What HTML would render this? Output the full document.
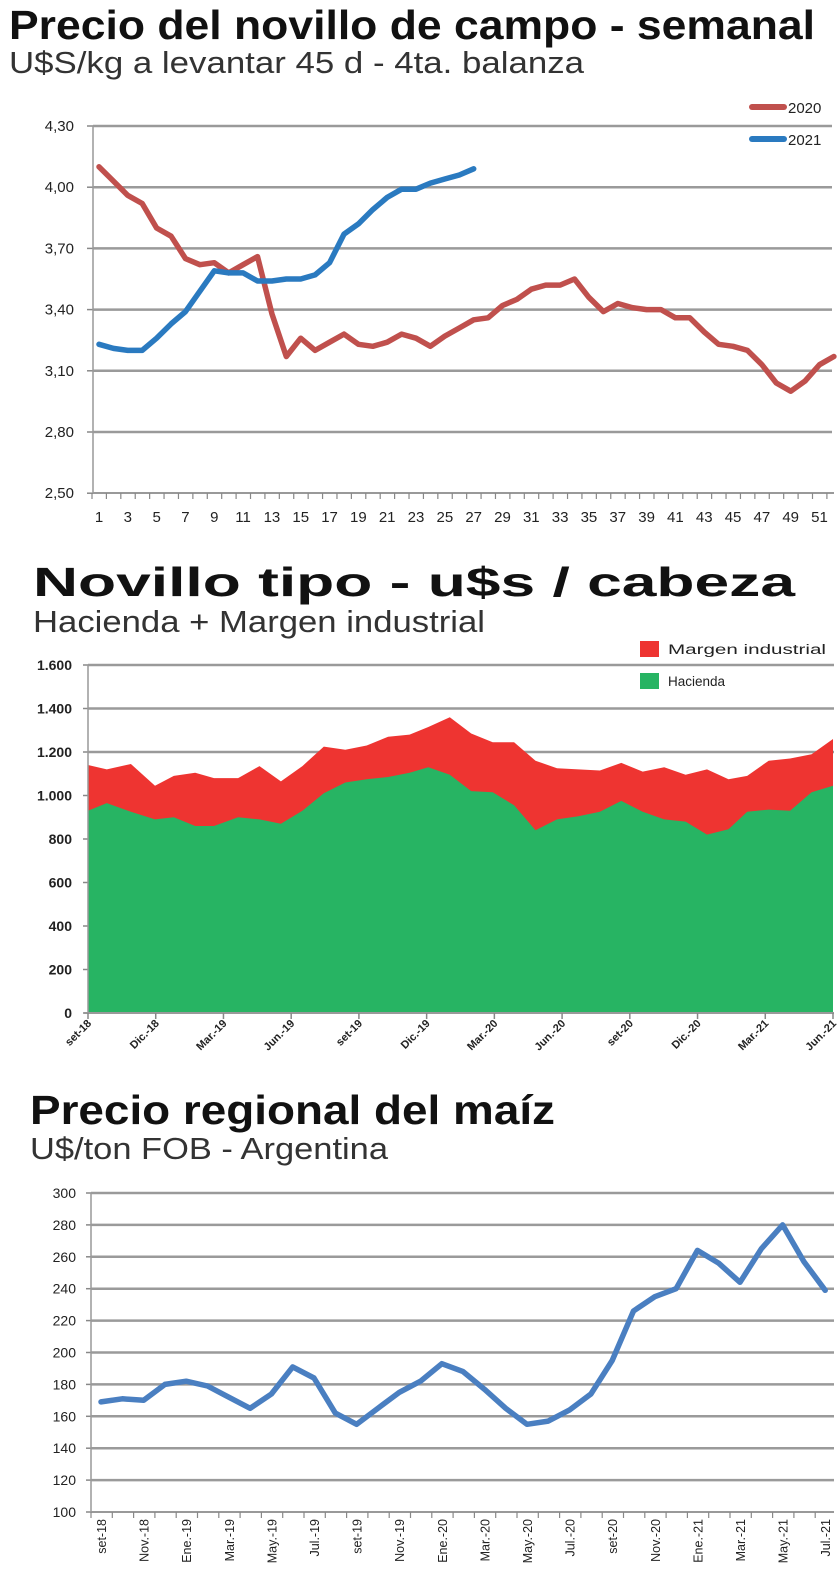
<!DOCTYPE html>
<html><head><meta charset="utf-8"><style>
html,body{margin:0;padding:0;background:#fff}
svg{display:block}
text{font-family:"Liberation Sans",sans-serif}
</style></head><body>
<svg id="s" width="840" height="1571" xmlns="http://www.w3.org/2000/svg">
<text x="9" y="39" font-size="41" font-weight="bold" fill="#111" textLength="806" lengthAdjust="spacingAndGlyphs">Precio del novillo de campo - semanal</text>
<text x="9" y="73" font-size="31" fill="#333" textLength="575" lengthAdjust="spacingAndGlyphs">U$S/kg a levantar 45 d - 4ta. balanza</text>
<text x="33" y="596" font-size="41" font-weight="bold" fill="#111" textLength="762" lengthAdjust="spacingAndGlyphs">Novillo tipo - u$s / cabeza</text>
<text x="33" y="632" font-size="31" fill="#333" textLength="452" lengthAdjust="spacingAndGlyphs">Hacienda + Margen industrial</text>
<text x="30" y="1124" font-size="41" font-weight="bold" fill="#111" textLength="525" lengthAdjust="spacingAndGlyphs">Precio regional del maíz</text>
<text x="30" y="1159" font-size="31" fill="#333" textLength="358" lengthAdjust="spacingAndGlyphs">U$/ton FOB - Argentina</text>
<g id="c1"></g><g id="c2"></g><g id="c3"></g>
</svg>
<script>
var NS="http://www.w3.org/2000/svg";
function el(p,t,a,txt){var e=document.createElementNS(NS,t);for(var k in a)e.setAttribute(k,a[k]);if(txt!=null)e.textContent=txt;p.appendChild(e);return e;}
// Chart 1
var c1=document.getElementById('c1');
function y1(v){return 126+(4.30-v)/0.30*61.2;}
function x1(w){return 99+(w-1)*14.41;}
var yl=["4,30","4,00","3,70","3,40","3,10","2,80","2,50"];
for(var i=0;i<7;i++){var y=126+i*61.2;
 if(i<6)el(c1,'line',{x1:93,x2:832,y1:y,y2:y,stroke:'#9a9a9a','stroke-width':2.5});
 el(c1,'line',{x1:87,x2:93,y1:y,y2:y,stroke:'#888','stroke-width':1.5});
 el(c1,'text',{x:74,y:y+5,'font-size':15,'text-anchor':'end',fill:'#222'},yl[i]);}
el(c1,'line',{x1:93,x2:93,y1:126,y2:493,stroke:'#999','stroke-width':1.5});
el(c1,'line',{x1:93,x2:834,y1:493,y2:493,stroke:'#999','stroke-width':2});
for(var w=0;w<=52;w++){var x=92+w*14.41;el(c1,'line',{x1:x,x2:x,y1:493,y2:499,stroke:'#888','stroke-width':1.2});}
for(var w=1;w<=51;w+=2)el(c1,'text',{x:x1(w),y:522,'font-size':15,'text-anchor':'middle',fill:'#222'},String(w));
var d20=[4.10,4.03,3.96,3.92,3.80,3.76,3.65,3.62,3.63,3.58,3.62,3.66,3.38,3.17,3.26,3.20,3.24,3.28,3.23,3.22,3.24,3.28,3.26,3.22,3.27,3.31,3.35,3.36,3.42,3.45,3.50,3.52,3.52,3.55,3.46,3.39,3.43,3.41,3.40,3.40,3.36,3.36,3.29,3.23,3.22,3.20,3.13,3.04,3.00,3.05,3.13,3.17];
var d21=[3.23,3.21,3.20,3.20,3.26,3.33,3.39,3.49,3.59,3.58,3.58,3.54,3.54,3.55,3.55,3.57,3.63,3.77,3.82,3.89,3.95,3.99,3.99,4.02,4.04,4.06,4.09];
function pl(d,fx,fy){return d.map(function(v,i){return fx(i+1).toFixed(1)+','+fy(v).toFixed(1)}).join(' ');}
el(c1,'polyline',{points:pl(d20,x1,y1),fill:'none',stroke:'#c0504d','stroke-width':5.5,'stroke-linejoin':'round','stroke-linecap':'round'});
el(c1,'polyline',{points:pl(d21,x1,y1),fill:'none',stroke:'#2a7ac0','stroke-width':5.5,'stroke-linejoin':'round','stroke-linecap':'round'});
el(c1,'line',{x1:752,x2:784,y1:107,y2:107,stroke:'#c0504d','stroke-width':6,'stroke-linecap':'round'});
el(c1,'text',{x:788,y:113,'font-size':15,fill:'#222'},'2020');
el(c1,'line',{x1:752,x2:784,y1:139,y2:139,stroke:'#2a7ac0','stroke-width':6,'stroke-linecap':'round'});
el(c1,'text',{x:788,y:145,'font-size':15,fill:'#222'},'2021');
// Chart 2
var c2=document.getElementById('c2');
function y2(v){return 1013-v*348/1600;}
var yl2=["1.600","1.400","1.200","1.000","800","600","400","200","0"];
for(var i=0;i<9;i++){var v=1600-i*200,y=y2(v);
 if(i<3)el(c2,'line',{x1:88,x2:834,y1:y,y2:y,stroke:'#9a9a9a','stroke-width':2.5});
 el(c2,'line',{x1:83,x2:88,y1:y,y2:y,stroke:'#888','stroke-width':1.5});
 el(c2,'text',{x:72,y:y+5,'font-size':14,'font-weight':'bold','text-anchor':'end',fill:'#222'},yl2[i]);}
var pts2=[[165,1140,930],[200,1120,965],[245,1145,925],[290,1045,890],[325,1090,900],[365,1105,860],[400,1080,860],[445,1080,900],[485,1135,890],[525,1065,870],[565,1135,930],[605,1225,1010],[645,1210,1060],[685,1230,1075],[725,1270,1085],[765,1280,1105],[800,1315,1130],[840,1360,1095],[880,1285,1020],[920,1245,1015],[960,1245,955],[1000,1160,840],[1040,1125,890],[1080,1120,905],[1120,1115,925],[1160,1150,975],[1200,1110,925],[1240,1130,890],[1280,1095,880],[1320,1120,820],[1360,1075,845],[1395,1090,925],[1435,1160,935],[1475,1170,930],[1515,1190,1015],[1555,1260,1045]];
function zx(z){return 88+(z-165)*(833-88)/(1555-165);}
var topPts='',hacPts='';pts2.forEach(function(p){topPts+=zx(p[0]).toFixed(1)+','+y2(p[1]).toFixed(1)+' ';hacPts+=zx(p[0]).toFixed(1)+','+y2(p[2]).toFixed(1)+' ';});
el(c2,'polygon',{points:topPts+'833,1013 88,1013',fill:'#ee3431'});
el(c2,'polygon',{points:hacPts+'833,1013 88,1013',fill:'#27b463'});
el(c2,'line',{x1:88,x2:88,y1:665,y2:1013,stroke:'#999','stroke-width':1.5});
el(c2,'line',{x1:84,x2:834,y1:1013,y2:1013,stroke:'#999','stroke-width':2});
var xl2=["set-18","Dic.-18","Mar.-19","Jun.-19","set-19","Dic.-19","Mar.-20","Jun.-20","set-20","Dic.-20","Mar.-21","Jun.-21"];
for(var i=0;i<12;i++){var x=88+i*(833-88)/11;
 el(c2,'line',{x1:x,x2:x,y1:1013,y2:1019,stroke:'#888','stroke-width':1.5});
 el(c2,'text',{x:x+4,y:1024,'font-size':11,'font-weight':'bold','text-anchor':'end',fill:'#222',transform:'rotate(-45 '+(x+4)+' 1024)'},xl2[i]);}
el(c2,'rect',{x:640,y:641,width:19,height:16,fill:'#ee3431'});
el(c2,'text',{x:668,y:654,'font-size':13.5,fill:'#222',textLength:158,lengthAdjust:'spacingAndGlyphs'},'Margen industrial');
el(c2,'rect',{x:640,y:673,width:19,height:16,fill:'#27b463'});
el(c2,'text',{x:668,y:686,'font-size':13.5,fill:'#222'},'Hacienda');
// Chart 3
var c3=document.getElementById('c3');
function y3(v){return 1512-(v-100)*319/200;}
for(var v=300;v>=100;v-=20){var y=y3(v);
 if(v>100)el(c3,'line',{x1:91,x2:834,y1:y,y2:y,stroke:'#9a9a9a','stroke-width':2.5});
 el(c3,'line',{x1:86,x2:91,y1:y,y2:y,stroke:'#888','stroke-width':1.5});
 el(c3,'text',{x:76,y:y+5,'font-size':14,'text-anchor':'end',fill:'#222'},String(v));}
el(c3,'line',{x1:91,x2:91,y1:1193,y2:1512,stroke:'#999','stroke-width':1.5});
el(c3,'line',{x1:91,x2:834,y1:1512,y2:1512,stroke:'#999','stroke-width':2});
var d3=[169,171,170,180,182,179,172,165,174,191,184,162,155,165,175,182,193,188,177,165,155,157,164,174,195,226,235,240,264,256,244,265,280,257,239];
function x3(i){return 101+(i-1)*21.3;}
el(c3,'polyline',{points:pl(d3,x3,y3),fill:'none',stroke:'#4a7fc1','stroke-width':5.5,'stroke-linejoin':'round','stroke-linecap':'round'});
var xl3=["set-18","Nov.-18","Ene.-19","Mar.-19","May.-19","Jul.-19","set-19","Nov.-19","Ene.-20","Mar.-20","May.-20","Jul.-20","set-20","Nov.-20","Ene.-21","Mar.-21","May.-21","Jul.-21"];
for(var i=0;i<=34;i++){var x=91+i*21.3;el(c3,'line',{x1:x,x2:x,y1:1512,y2:1518,stroke:'#888','stroke-width':1.2});}
for(var i=0;i<18;i++){var x=x3(1+i*2)+5;
 el(c3,'text',{x:x,y:1519,'font-size':12.5,'text-anchor':'end',fill:'#222',transform:'rotate(-90 '+x+' 1519)'},xl3[i]);}
</script>
</body></html>
